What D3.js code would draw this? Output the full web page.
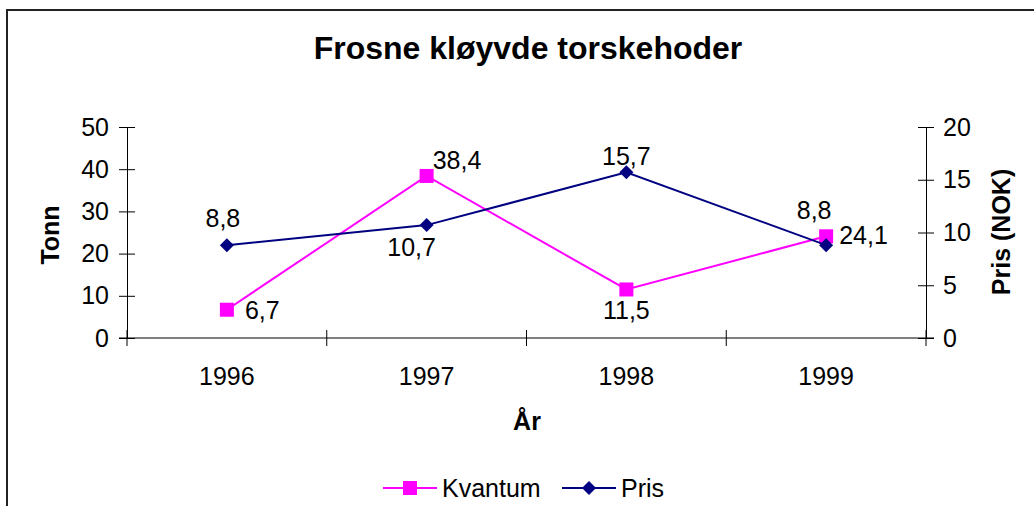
<!DOCTYPE html>
<meta charset="utf-8">
<style>
  body { margin: 0; background: #fff; }
  svg text { font-family: "Liberation Sans", Arial, sans-serif; fill: #000; }
</style>
<body>
<script src="https://cdn.jsdelivr.net/npm/d3@7"></script>
<div id="chart"></div>
<script>
// data
var years = ["1996", "1997", "1998", "1999"];
var kvantum = [6.7, 38.4, 11.5, 24.1];   // Tonn, left axis
var pris = [8.8, 10.7, 15.7, 8.8];       // NOK, right axis
var leftTicks = [0, 10, 20, 30, 40, 50];
var rightTicks = [0, 5, 10, 15, 20];

var width = 1034, height = 506;
var plotLeft = 127, plotRight = 926, plotTop = 127, plotBottom = 338;
var fs = "25px";

var svg = d3.select("#chart").append("svg")
    .attr("width", width)
    .attr("height", height);

// chart frame (only top and left edges visible)
svg.append("path")
    .attr("d", "M7,506 V10 H1034")
    .attr("fill", "none")
    .attr("stroke", "#222")
    .attr("stroke-width", 2);

svg.append("text")
    .attr("x", 528).attr("y", 59)
    .attr("text-anchor", "middle")
    .style("font-size", "32px").style("font-weight", "bold")
    .text("Frosne kløyvde torskehoder");

var x = d3.scaleBand().domain(years).range([plotLeft, plotRight]);
var yL = d3.scaleLinear().domain([0, 50]).range([plotBottom, plotTop]);
var yR = d3.scaleLinear().domain([0, 20]).range([plotBottom, plotTop]);

function styleAxis(g) {
    g.select(".domain").attr("stroke", "#000").attr("stroke-width", 1);
    g.selectAll(".tick line").attr("stroke", "#000");
    g.selectAll("text").style("font-size", fs).attr("fill", "#000")
        .attr("font-family", null);
}

// left axis
svg.append("g")
    .attr("transform", "translate(" + plotLeft + ",0)")
    .call(d3.axisLeft(yL).tickValues(leftTicks).tickSize(8).tickSizeOuter(0).tickPadding(6))
    .call(g => g.selectAll(".tick line").attr("x2", 8).attr("x1", -8))
    .call(styleAxis)
    .call(g => g.selectAll("text").attr("x", -18));

// right axis
svg.append("g")
    .attr("transform", "translate(" + plotRight + ",0)")
    .call(d3.axisRight(yR).tickValues(rightTicks).tickSize(8).tickSizeOuter(0).tickPadding(6))
    .call(g => g.selectAll(".tick line").attr("x1", -8).attr("x2", 8))
    .call(styleAxis)
    .call(g => g.selectAll("text").attr("x", 17));

// bottom axis: ticks on band boundaries
var xg = svg.append("g").attr("transform", "translate(0," + plotBottom + ")");
xg.append("line").attr("x1", plotLeft - 8).attr("x2", plotRight + 8).attr("stroke", "#000");
xg.selectAll(".xt").data(years.concat(["end"])).join("line")
    .attr("x1", (d, i) => plotLeft + i * x.bandwidth())
    .attr("x2", (d, i) => plotLeft + i * x.bandwidth())
    .attr("y1", -8).attr("y2", 8)
    .attr("stroke", "#000");
xg.selectAll(".xl").data(years).join("text")
    .attr("x", d => x(d) + x.bandwidth() / 2)
    .attr("y", 47)
    .attr("text-anchor", "middle")
    .style("font-size", fs)
    .text(d => d);

// axis titles
svg.append("text").attr("x", 527).attr("y", 430)
    .attr("text-anchor", "middle")
    .style("font-size", "25px").style("font-weight", "bold")
    .text("År");
svg.append("text")
    .attr("transform", "translate(59,235) rotate(-90)")
    .attr("text-anchor", "middle")
    .style("font-size", "25px").style("font-weight", "bold")
    .text("Tonn");
svg.append("text")
    .attr("transform", "translate(1010,232) rotate(-90)")
    .attr("text-anchor", "middle")
    .style("font-size", "25px").style("font-weight", "bold")
    .text("Pris (NOK)");

var cx = d => x(d) + x.bandwidth() / 2;
var fmt = v => String(v).replace(".", ",");

// Kvantum
svg.append("path")
    .datum(kvantum)
    .attr("fill", "none").attr("stroke", "#ff00ff").attr("stroke-width", 2)
    .attr("d", d3.line().x((d, i) => cx(years[i])).y(d => yL(d)));
svg.selectAll(".kq").data(kvantum).join("rect")
    .attr("x", (d, i) => cx(years[i]) - 7)
    .attr("y", d => yL(d) - 7)
    .attr("width", 14).attr("height", 14)
    .attr("fill", "#ff00ff");
var kOff = [[18, 9, "start"], [6, -7, "start"], [0, 30, "middle"], [13, 8, "start"]];
svg.selectAll(".kl").data(kvantum).join("text")
    .attr("x", (d, i) => cx(years[i]) + kOff[i][0])
    .attr("y", (d, i) => yL(d) + kOff[i][1])
    .attr("text-anchor", (d, i) => kOff[i][2])
    .style("font-size", fs)
    .text(d => fmt(d));

// Pris
svg.append("path")
    .datum(pris)
    .attr("fill", "none").attr("stroke", "#000080").attr("stroke-width", 2)
    .attr("d", d3.line().x((d, i) => cx(years[i])).y(d => yR(d)));
svg.selectAll(".pd").data(pris).join("path")
    .attr("transform", (d, i) => "translate(" + cx(years[i]) + "," + yR(d) + ")")
    .attr("d", "M0,-7 L7,0 L0,7 L-7,0 Z")
    .attr("fill", "#000080");
var pOff = [[-4, -18, "middle"], [-15, 31, "middle"], [0, -7, "middle"], [-12, -26, "middle"]];
svg.selectAll(".pl").data(pris).join("text")
    .attr("x", (d, i) => cx(years[i]) + pOff[i][0])
    .attr("y", (d, i) => yR(d) + pOff[i][1])
    .attr("text-anchor", (d, i) => pOff[i][2])
    .style("font-size", fs)
    .text(d => fmt(d));

// legend
var legend = [
    { name: "Kvantum", color: "#ff00ff", x: 383, shape: "square" },
    { name: "Pris", color: "#000080", x: 562, shape: "diamond" }
];
var lg = svg.selectAll(".lg").data(legend).join("g")
    .attr("transform", d => "translate(" + d.x + ",488)");
lg.append("line").attr("x1", 0).attr("x2", 54)
    .attr("stroke", d => d.color).attr("stroke-width", 2);
lg.append("path")
    .attr("d", d => d.shape === "square" ? "M20,-7 H34 V7 H20 Z" : "M27,-7 L34,0 L27,7 L20,0 Z")
    .attr("fill", d => d.color);
lg.append("text").attr("x", 59).attr("y", 9)
    .style("font-size", fs)
    .text(d => d.name);
</script>
</body>
